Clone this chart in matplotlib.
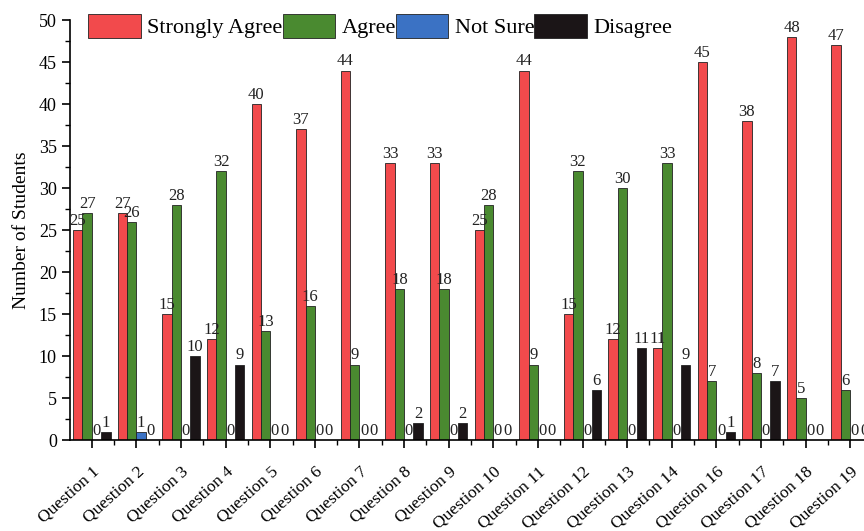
import numpy as np
import matplotlib
matplotlib.use("Agg")
import matplotlib.pyplot as plt
import matplotlib.transforms as mtrans
from matplotlib.ticker import MultipleLocator

plt.rcParams["font.family"] = ["Liberation Serif", "DejaVu Serif"]

questions = ["Question 1", "Question 2", "Question 3", "Question 4", "Question 5",
             "Question 6", "Question 7", "Question 8", "Question 9", "Question 10",
             "Question 11", "Question 12", "Question 13", "Question 14", "Question 16",
             "Question 17", "Question 18", "Question 19"]
strongly_agree = [25, 27, 15, 12, 40, 37, 44, 33, 33, 25, 44, 15, 12, 11, 45, 38, 48, 47]
agree = [27, 26, 28, 32, 13, 16, 9, 18, 18, 28, 9, 32, 30, 33, 7, 8, 5, 6]
not_sure = [0, 1, 0, 0, 0, 0, 0, 0, 0, 0, 0, 0, 0, 0, 0, 0, 0, 0]
disagree = [1, 0, 10, 9, 0, 0, 0, 2, 2, 0, 0, 6, 11, 9, 1, 7, 0, 0]

series = [("Strongly Agree", strongly_agree, "#f24a4c"),
          ("Agree", agree, "#4a8a30"),
          ("Not Sure", not_sure, "#3b72c4"),
          ("Disagree", disagree, "#1b1517")]

fig = plt.figure(figsize=(8.64, 5.31), dpi=100)
ax = fig.add_axes([0.081, 0.171, 0.919, 0.791])

x = np.arange(len(questions))
w = 0.21
for i, (name, vals, col) in enumerate(series):
    pos = x + (i - 1.5) * w
    ax.bar(pos, vals, w, color=col, edgecolor="#222222", linewidth=0.6, label=name)
    for px, v in zip(pos, vals):
        ax.text(px, v + 0.15, str(v), ha="center", va="bottom", fontsize=12, color="#222222")

ax.set_xlim(-0.49, 17.31)
ax.set_ylim(0, 50)
ax.set_xticks(x)
ax.set_xticklabels(questions, rotation=42, ha="right", rotation_mode="anchor", fontsize=12.5)
shift = mtrans.ScaledTranslation(12 / 100, 0, fig.dpi_scale_trans)
for lab in ax.get_xticklabels():
    lab.set_transform(lab.get_transform() + shift)
ax.xaxis.set_minor_locator(MultipleLocator(0.5))
ax.yaxis.set_major_locator(MultipleLocator(5))
ax.yaxis.set_minor_locator(MultipleLocator(2.5))
ax.tick_params(axis="both", which="major", direction="out", length=6, width=1.2, labelsize=13)
ax.tick_params(axis="x", which="major", labelsize=12.5, pad=11)
ax.tick_params(axis="both", which="minor", direction="out", length=3.5, width=1.0)
for s in ["top", "right"]:
    ax.spines[s].set_visible(False)
for s in ["left", "bottom"]:
    ax.spines[s].set_linewidth(1.2)
ax.set_ylabel("Number of Students", fontsize=14, labelpad=6)

fig.legend(loc="upper left", bbox_to_anchor=(0.092, 0.99), ncol=4, frameon=False,
           fontsize=16, handlelength=2.35, handleheight=1.25, handletextpad=0.3,
           columnspacing=0.0, borderaxespad=0)

fig.savefig("out.png", dpi=100)
